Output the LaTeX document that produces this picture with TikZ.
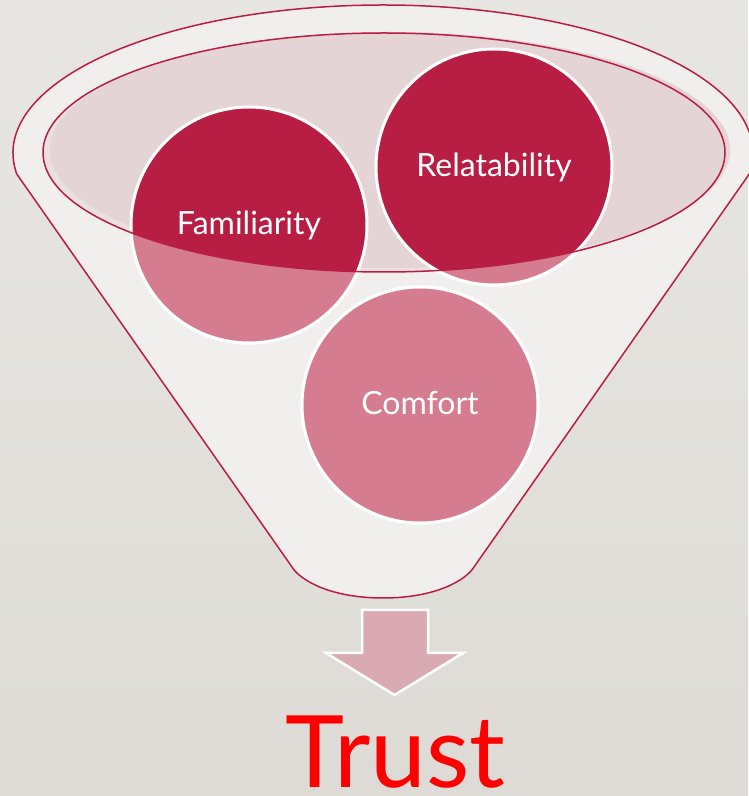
\documentclass[tikz,border=0pt]{standalone}
\usepackage{fontspec}
\setmainfont{Lato}
\begin{document}
\begin{tikzpicture}[x=1pt,y=1pt,
  bubble/.style={circle, minimum size=236, inner sep=0pt, draw=white,
    line width=3pt, fill=crimson, text=white, text height=24pt, text depth=4pt,
    font=\fontsize{32}{38}\selectfont},
  rimline/.style={draw=crimson, line width=1.5pt}]
\definecolor{bgtop}{RGB}{232,230,227}
\definecolor{bgbot}{RGB}{222,219,214}
\definecolor{crimson}{RGB}{184,30,67}
\definecolor{bodycol}{RGB}{241,239,237}
\definecolor{mouthcol}{RGB}{228,212,213}
\definecolor{mouthedge}{RGB}{233,225,224}
\definecolor{arrowpink}{RGB}{217,170,177}
\newcommand{\funnelpath}{(16.8,621.9) arc[start angle=188.2, end angle=-8.2, x radius=370, y radius=148]
  -- (474,229) .. controls (466,216) and (436,198) .. (383,198)
  .. controls (330,198) and (300,216) .. (292,229) -- cycle}

\useasboundingbox (0,0) rectangle (748,796);
% background
\shade[top color=bgtop, bottom color=bgbot] (0,0) rectangle (748,796);

% funnel body
\fill[bodycol] \funnelpath;

% opening of the funnel
\fill[mouthedge] (384,643.5) ellipse[x radius=341, y radius=119.5];
\fill[mouthcol] (390,646) ellipse[x radius=340, y radius=118];

% the three bubbles
\node[bubble] (fam) at (249,571) {Familiarity};
\node[bubble] (rel) at (494,629) {Relatability};
\node[bubble] (com) at (420,391) {Comfort};

% funnel wall seen over the bubbles
\begin{scope}
  \clip (249,571) circle[radius=120] (494,629) circle[radius=120] (420,391) circle[radius=120];
  \fill[white, opacity=0.42, even odd rule] \funnelpath (384,643.5) ellipse[x radius=341, y radius=119.5];
\end{scope}

% outlines
\draw[rimline] \funnelpath;
\draw[rimline] (384,643.5) ellipse[x radius=341, y radius=119.5];

% output arrow
\draw[white, line width=2.5pt, fill=arrowpink, line join=miter]
  (362,186) -- (428,186) -- (428,143) -- (463,143) -- (394.5,101) -- (326,143) -- (362,143) -- cycle;

% result
\node[anchor=base, text=red, inner sep=0pt, font=\fontsize{100}{120}\selectfont] (trust) at (395.5,9) {Trust};
\end{tikzpicture}
\end{document}
